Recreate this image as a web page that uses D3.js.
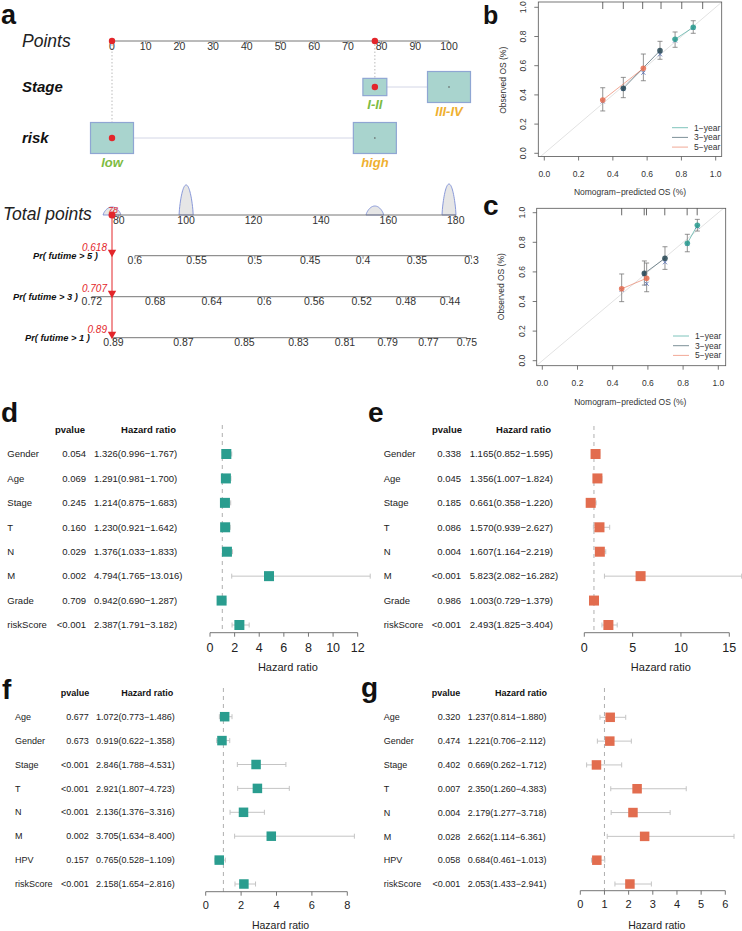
<!DOCTYPE html>
<html><head><meta charset="utf-8">
<script src="https://cdn.jsdelivr.net/npm/d3@7"></script>
<style>
body{margin:0;background:#fff}
svg{display:block}
text{font-family:"Liberation Sans",Arial,Helvetica,sans-serif}
</style>
</head><body>
<svg id="fig" width="742" height="931"></svg>
<script>
// ================= DATA =================
// Panel a: nomogram
const pointsTicks = [0,10,20,30,40,50,60,70,80,90,100];
const stageLevels = ["I-II","III-IV"];
const stagePoints = [78,100];
const stageFreq = [0.31,1.0];
const riskLevels = ["low","high"];
const riskPoints = [0,78];
const riskFreq = [1.0,1.0];
const totalTicks = [80,100,120,140,160,180];
const densityPeaks = [78,100,156,178];
const densityRel = [0.26,0.97,0.29,1.0];
const prob5Labels = ["0.6","0.55","0.5","0.45","0.4","0.35","0.3"];
const prob5At = [84.8,103.1,120.4,136.8,152.5,168.5,184.7];
const prob3Labels = ["0.72","0.68","0.64","0.6","0.56","0.52","0.48","0.44"];
const prob3At = [72.0,90.8,107.6,123.2,138.0,152.1,165.2,178.3];
const prob1Labels = ["0.89","0.87","0.85","0.83","0.81","0.79","0.77","0.75"];
const prob1At = [78.4,99.2,117.3,133.3,147.1,159.8,171.9,183.3];
const probRowNames = ["Pr( futime > 5 )","Pr( futime > 3 )","Pr( futime > 1 )"];
const predictedProb = ["0.618","0.707","0.89"];

// Panel b: calibration
const calTicks = [0,0.2,0.4,0.6,0.8,1.0];
const calNames = ["1\u2212year","3\u2212year","5\u2212year"];
const b1x=[0.763,0.869], b1y=[0.781,0.863], b1lo=[0.726,0.822], b1hi=[0.831,0.908], b1c=[0.772,0.858];
const b3x=[0.461,0.675], b3y=[0.445,0.703], b3lo=[0.381,0.644], b3hi=[0.520,0.767], b3c=[0.440,0.678];
const b5x=[0.341,0.578], b5y=[0.365,0.582], b5lo=[0.290,0.497], b5hi=[0.449,0.680], b5c=[0.355,0.552];
const bRug=[0.341,0.461,0.574,0.681,0.802,0.924];
// Panel c: calibration
const c1x=[0.824,0.881], c1y=[0.793,0.915], c1lo=[0.736,0.876], c1hi=[0.854,0.955], c1c=[0.788,0.905];
const c3x=[0.580,0.697], c3y=[0.590,0.692], c3lo=[0.511,0.617], c3hi=[0.674,0.770], c3c=[0.585,0.665];
const c5x=[0.451,0.593], c5y=[0.486,0.557], c5lo=[0.399,0.466], c5hi=[0.586,0.660], c5c=[0.480,0.520];
const cRug=[0.451,0.579,0.592,0.696,0.823,0.880];

// Panels d-g: forest plots
const dNames=["Gender","Age","Stage","T","N","M","Grade","riskScore"];
const dP=["0.054","0.069","0.245","0.160","0.029","0.002","0.709","<0.001"];
const dHR=[1.326,1.291,1.214,1.230,1.376,4.794,0.942,2.387];
const dLo=[0.996,0.981,0.875,0.921,1.033,1.765,0.690,1.791];
const dHi=[1.767,1.700,1.683,1.642,1.833,13.016,1.287,3.182];
const dTicks=[0,2,4,6,8,10,12];

const eNames=["Gender","Age","Stage","T","N","M","Grade","riskScore"];
const eP=["0.338","0.045","0.185","0.086","0.004","<0.001","0.986","<0.001"];
const eHR=[1.165,1.356,0.661,1.570,1.607,5.823,1.003,2.493];
const eLo=[0.852,1.007,0.358,0.939,1.164,2.082,0.729,1.825];
const eHi=[1.595,1.824,1.220,2.627,2.219,16.282,1.379,3.404];
const eTicks=[0,5,10,15];

const fNames=["Age","Gender","Stage","T","N","M","HPV","riskScore"];
const fP=["0.677","0.673","<0.001","<0.001","<0.001","0.002","0.157","<0.001"];
const fHR=[1.072,0.919,2.846,2.921,2.136,3.705,0.765,2.158];
const fLo=[0.773,0.622,1.788,1.807,1.376,1.634,0.528,1.654];
const fHi=[1.486,1.358,4.531,4.723,3.316,8.400,1.109,2.816];
const fTicks=[0,2,4,6,8];

const gNames=["Age","Gender","Stage","T","N","M","HPV","riskScore"];
const gP=["0.320","0.474","0.402","0.007","0.004","0.028","0.058","<0.001"];
const gHR=[1.237,1.221,0.669,2.350,2.179,2.662,0.684,2.053];
const gLo=[0.814,0.706,0.262,1.260,1.277,1.114,0.461,1.433];
const gHi=[1.880,2.112,1.712,4.383,3.718,6.361,1.013,2.941];
const gTicks=[0,1,2,3,4,5,6];

// ================= DRAW =================
const svg = d3.select("#fig");
svg.append("rect").attr("width",742).attr("height",931).attr("fill","#fff");

function panelLabel(t,x,y,fs){
  svg.append("text").attr("x",x).attr("y",y).attr("font-size",fs||28).attr("font-weight","bold").attr("fill","#111").text(t);
}
panelLabel("a",1,24,27); panelLabel("b",483,24,25); panelLabel("c",483,215);
panelLabel("d",1,422); panelLabel("e",368,422); panelLabel("f",2,699); panelLabel("g",361,697);

// ---------- Panel a ----------
const A = svg.append("g");
const RED = "#e3262b";
const xP = d3.scaleLinear().domain([0,100]).range([112,449]);
const xT = d3.scaleLinear().domain([78,178]).range([112,449]);
const yPoints=41, yStage=87, yRisk=138, yTotal=215, yPr=[255.7,296.7,337.7];

// Row titles
A.append("text").attr("x",22).attr("y",47).attr("font-size",17.5).attr("font-style","italic").attr("fill","#222").text("Points");
A.append("text").attr("x",22).attr("y",92).attr("font-size",15).attr("font-style","italic").attr("font-weight","bold").attr("fill","#111").text("Stage");
A.append("text").attr("x",22).attr("y",143).attr("font-size",15).attr("font-style","italic").attr("font-weight","bold").attr("fill","#111").text("risk");
A.append("text").attr("x",3).attr("y",220).attr("font-size",17.5).attr("font-style","italic").attr("fill","#222").text("Total points");

// dotted guide lines
A.append("line").attr("x1",xP(riskPoints[0])).attr("x2",xP(riskPoints[0])).attr("y1",yPoints).attr("y2",yRisk)
  .attr("stroke","#bbb").attr("stroke-dasharray","1.5,2");
A.append("line").attr("x1",xP(stagePoints[0])).attr("x2",xP(stagePoints[0])).attr("y1",yPoints).attr("y2",yStage)
  .attr("stroke","#bbb").attr("stroke-dasharray","1.5,2");

// Points axis
A.append("line").attr("x1",xP(0)).attr("x2",xP(100)).attr("y1",yPoints).attr("y2",yPoints).attr("stroke","#777");
A.selectAll(".ptk").data(pointsTicks).join("line").attr("x1",d=>xP(d)).attr("x2",d=>xP(d)).attr("y1",yPoints).attr("y2",yPoints+3).attr("stroke","#888");
A.selectAll(".ptl").data(pointsTicks).join("text").attr("x",d=>xP(d)).attr("y",49.5).attr("text-anchor","middle")
  .attr("font-size",10.5).attr("fill","#333").text(d=>d);
A.selectAll(".pdot").data([riskPoints[0],stagePoints[0]]).join("circle").attr("cx",d=>xP(d)).attr("cy",yPoints).attr("r",3.2).attr("fill",RED);

// variable rows
function varRow(levels, pts, freq, y){
  const g = A.append("g");
  const boxes = levels.map((l,i)=>({l, p:pts[i], w:43*Math.sqrt(freq[i]), h:31*Math.sqrt(freq[i]), i}));
  g.append("line").attr("x1",xP(pts[0])).attr("x2",xP(pts[1])).attr("y1",y).attr("y2",y).attr("stroke","#d3d6e6");
  g.selectAll("rect").data(boxes).join("rect")
    .attr("x",d=>xP(d.p)-d.w/2).attr("y",d=>y-d.h/2).attr("width",d=>d.w).attr("height",d=>d.h)
    .attr("fill","#a9d4ce").attr("stroke","#8fa6d3").attr("stroke-width",1.2);
  g.selectAll(".lbl").data(boxes).join("text")
    .attr("x",d=>xP(d.p)).attr("y",d=>y+d.h/2+13).attr("text-anchor","middle")
    .attr("font-size",13).attr("font-weight","bold").attr("font-style","italic")
    .attr("fill",d=>d.i===0?"#7dbb42":"#efb030").text(d=>d.l);
  g.append("circle").attr("cx",xP(pts[0])).attr("cy",y).attr("r",3.2).attr("fill",RED);
  g.append("circle").attr("cx",xP(pts[1])).attr("cy",y).attr("r",0.8).attr("fill","#555");
}
varRow(stageLevels, stagePoints, stageFreq, yStage);
varRow(riskLevels, riskPoints, riskFreq, yRisk);

// Total points axis with density bumps
const bumps = densityPeaks.map((p,i)=>({p, h:densityRel[i]}));
const bumpLine = d3.line().x(d=>d[0]).y(d=>d[1]);
bumps.forEach(b=>{
  const hw = 7 + 2.6*(1-b.h), H = 31*b.h, cx = xT(b.p);
  const pts = d3.range(-1,1.0001,0.05).map(t=>[cx+t*hw, yTotal - H*Math.pow(1-t*t,0.75)]);
  A.append("path").attr("d",bumpLine(pts)+"Z").attr("fill","#e6e6e6").attr("stroke","#7d8fd6").attr("stroke-width",0.9);
});
A.append("line").attr("x1",xT(78)).attr("x2",xT(180)).attr("y1",yTotal).attr("y2",yTotal).attr("stroke","#777");
A.selectAll(".ttk").data(totalTicks).join("line").attr("x1",d=>xT(d)).attr("x2",d=>xT(d)).attr("y1",yTotal).attr("y2",yTotal+3).attr("stroke","#888");
A.selectAll(".ttl").data(totalTicks).join("text").attr("x",d=>xT(d)).attr("y",yTotal+8.5).attr("text-anchor","middle")
  .attr("font-size",10.5).attr("fill","#333").text(d=>d);

// probability axes
const probRows = [[prob5Labels,prob5At],[prob3Labels,prob3At],[prob1Labels,prob1At]];
const probNameX = [33,13,25];
probRows.forEach(([labs,at],r)=>{
  const y = yPr[r];
  A.append("line").attr("x1",xT(at[0])).attr("x2",xT(at[at.length-1])).attr("y1",y).attr("y2",y).attr("stroke","#777");
  A.selectAll(".pk"+r).data(at).join("line").attr("x1",d=>xT(d)).attr("x2",d=>xT(d)).attr("y1",y).attr("y2",y+3).attr("stroke","#888");
  A.selectAll(".pl"+r).data(labs).join("text").attr("x",(d,i)=>xT(at[i])).attr("y",y+8.5).attr("text-anchor","middle")
    .attr("font-size",10.5).attr("fill","#333").text(d=>d);
  A.append("text").attr("x",probNameX[r]).attr("y",y+3.5).attr("font-size",9.3).attr("font-weight","bold").attr("font-style","italic")
    .attr("fill","#111").text(probRowNames[r]);
});

// selected patient indicator
const selTotal = riskPoints[0] + stagePoints[0];
A.append("line").attr("x1",xT(selTotal)).attr("x2",xT(selTotal)).attr("y1",yTotal).attr("y2",yPr[2]).attr("stroke",RED).attr("stroke-width",1);
A.append("circle").attr("cx",xT(selTotal)).attr("cy",yTotal).attr("r",3.5).attr("fill",RED);
A.append("text").attr("x",xT(selTotal)+1).attr("y",yTotal-2).attr("text-anchor","middle").attr("font-size",9).attr("font-style","italic").attr("fill",RED).text(selTotal);
yPr.forEach((y,r)=>{
  A.append("path").attr("d",`M${xT(selTotal)-4.2},${y-6} L${xT(selTotal)+4.2},${y-6} L${xT(selTotal)},${y+1.5} Z`).attr("fill",RED);
  A.append("text").attr("x",xT(selTotal)-5).attr("y",y-4.5).attr("text-anchor","end").attr("font-size",10).attr("font-style","italic")
    .attr("fill",RED).text(predictedProb[r]);
});

// ---------- Calibration panels ----------
const calColors = ["#2a9d8f","#264653","#e76f51"];
function calPanel(cfg, series, rug){
  const g = svg.append("g");
  const x = d3.scaleLinear().domain([0,1]).range([cfg.px0,cfg.px1]);
  const y = d3.scaleLinear().domain([0,1]).range([cfg.py0,cfg.py1]);
  const L=cfg.left, R=cfg.right, T=cfg.top, B=cfg.bottom;
  const cid = "clip"+cfg.id;
  g.append("clipPath").attr("id",cid).append("rect").attr("x",L).attr("y",T).attr("width",R-L).attr("height",B-T);
  g.append("line").attr("clip-path",`url(#${cid})`).attr("x1",x(-0.1)).attr("y1",y(-0.1)).attr("x2",x(1.1)).attr("y2",y(1.1))
    .attr("stroke","#e2e2e2").attr("stroke-width",1);
  g.append("rect").attr("x",L).attr("y",T).attr("width",R-L).attr("height",B-T).attr("fill","none").attr("stroke","#555").attr("stroke-width",0.8);
  g.selectAll(".rug").data(rug).join("line").attr("x1",d=>x(d)).attr("x2",d=>x(d)).attr("y1",T).attr("y2",T+7).attr("stroke","#444").attr("stroke-width",0.8);
  g.selectAll(".xt").data(calTicks).join("line").attr("x1",d=>x(d)).attr("x2",d=>x(d)).attr("y1",B).attr("y2",B+4).attr("stroke","#555").attr("stroke-width",0.8);
  g.selectAll(".xl").data(calTicks).join("text").attr("x",d=>x(d)).attr("y",B+20).attr("text-anchor","middle").attr("font-size",8.5).attr("fill","#333").text(d3.format(".1f"));
  g.selectAll(".yt").data(calTicks).join("line").attr("x1",L-4).attr("x2",L).attr("y1",d=>y(d)).attr("y2",d=>y(d)).attr("stroke","#555").attr("stroke-width",0.8);
  g.selectAll(".yl").data(calTicks).join("text").attr("transform",d=>`translate(${L-15},${y(d)}) rotate(-90)`).attr("dy","0.35em")
    .attr("text-anchor","middle").attr("font-size",8.5).attr("fill","#333").text(d3.format(".1f"));
  g.append("text").attr("transform",`translate(${cfg.ytX},${(y(0)+y(1))/2}) rotate(-90)`).attr("dy","0.35em").attr("text-anchor","middle")
    .attr("font-size",8.5).attr("fill","#333").text("Observed OS (%)");
  g.append("text").attr("x",(x(0)+x(1))/2).attr("y",cfg.xtY).attr("text-anchor","middle").attr("font-size",8.5).attr("fill","#333")
    .text("Nomogram\u2212predicted OS (%)");
  series.forEach((s,k)=>{
    const pts = s.x.map((v,i)=>({x:v,y:s.y[i],lo:s.lo[i],hi:s.hi[i],c:s.c[i]}));
    g.append("path").attr("d",d3.line().x(d=>x(d.x)).y(d=>y(d.y))(pts)).attr("fill","none").attr("stroke",calColors[k]).attr("stroke-opacity",0.6).attr("stroke-width",1);
    pts.forEach(p=>{
      g.append("line").attr("x1",x(p.x)).attr("x2",x(p.x)).attr("y1",y(p.lo)).attr("y2",y(p.hi)).attr("stroke","#777").attr("stroke-width",0.8);
      [p.lo,p.hi].forEach(v=>g.append("line").attr("x1",x(p.x)-2.5).attr("x2",x(p.x)+2.5).attr("y1",y(v)).attr("y2",y(v)).attr("stroke","#777").attr("stroke-width",0.8));
      const cx=x(p.x), cy=y(p.c);
      g.append("path").attr("d",`M${cx-2},${cy-2}L${cx+2},${cy+2}M${cx-2},${cy+2}L${cx+2},${cy-2}`).attr("stroke","#5b74b8").attr("stroke-width",0.9);
      g.append("circle").attr("cx",x(p.x)).attr("cy",y(p.y)).attr("r",2.8).attr("fill",calColors[k]).attr("fill-opacity",0.85);
    });
  });
  calNames.forEach((n,k)=>{
    const ly = cfg.legY + k*9.7;
    g.append("line").attr("x1",cfg.legX).attr("x2",cfg.legX+16).attr("y1",ly).attr("y2",ly).attr("stroke",calColors[k]).attr("stroke-opacity",0.6).attr("stroke-width",1);
    g.append("text").attr("x",cfg.legX+22).attr("y",ly).attr("dy","0.35em").attr("font-size",8.5).attr("fill","#333").text(n);
  });
}
calPanel({id:"b",px0:544.3,px1:715.7,py0:153.3,py1:7.3,left:538.3,right:721.7,top:2,bottom:156.5,ytX:503.3,xtY:195,legX:672,legY:127.7},
  [{x:b1x,y:b1y,lo:b1lo,hi:b1hi,c:b1c},{x:b3x,y:b3y,lo:b3lo,hi:b3hi,c:b3c},{x:b5x,y:b5y,lo:b5lo,hi:b5hi,c:b5c}], bRug);
calPanel({id:"c",px0:542.3,px1:718.3,py0:360.7,py1:212.7,left:536.7,right:725.7,top:208.3,bottom:365.7,ytX:500.7,xtY:405,legX:673,legY:336},
  [{x:c1x,y:c1y,lo:c1lo,hi:c1hi,c:c1c},{x:c3x,y:c3y,lo:c3lo,hi:c3hi,c:c3c},{x:c5x,y:c5y,lo:c5lo,hi:c5hi,c:c5c}], cRug);

// ---------- Forest plots ----------
function forest(cfg, names, pv, hr, lo, hi, ticks, color){
  const g = svg.append("g");
  const x = d3.scaleLinear().domain([ticks[0],ticks[ticks.length-1]]).range([cfg.x0,cfg.x1]);
  const y = d3.scalePoint().domain(names).range(cfg.rows);
  const f3 = d3.format(".3f");
  g.append("text").attr("x",cfg.pvC).attr("y",cfg.headY).attr("dy","0.35em").attr("text-anchor","middle").attr("font-size",cfg.fs).attr("font-weight","bold").attr("fill","#111").text("pvalue");
  g.append("text").attr("x",cfg.hrR).attr("y",cfg.headY).attr("dy","0.35em").attr("text-anchor","end").attr("font-size",cfg.fs).attr("font-weight","bold").attr("fill","#111").text("Hazard ratio");
  names.forEach((n,i)=>{
    const yy = y(n);
    g.append("text").attr("x",cfg.nameX).attr("y",yy).attr("dy","0.35em").attr("font-size",cfg.fs).attr("fill","#222").text(n);
    g.append("text").attr("x",cfg.pR).attr("y",yy).attr("dy","0.35em").attr("text-anchor","end").attr("font-size",cfg.fs).attr("fill","#222").text(pv[i]);
    g.append("text").attr("x",cfg.hrX).attr("y",yy).attr("dy","0.35em").attr("font-size",cfg.fs).attr("fill","#222")
      .text(`${f3(hr[i])}(${f3(lo[i])}\u2212${f3(hi[i])})`);
  });
  g.append("line").attr("x1",x(1)).attr("x2",x(1)).attr("y1",cfg.dashTop).attr("y2",cfg.axisY).attr("stroke","#9a9a9a").attr("stroke-width",0.8).attr("stroke-dasharray","4,4");
  names.forEach((n,i)=>{
    const yy = y(n);
    g.append("line").attr("x1",x(lo[i])).attr("x2",x(hi[i])).attr("y1",yy).attr("y2",yy).attr("stroke","#c4c4c4").attr("stroke-width",1);
    [lo[i],hi[i]].forEach(v=>g.append("line").attr("x1",x(v)).attr("x2",x(v)).attr("y1",yy-2.5).attr("y2",yy+2.5).attr("stroke","#c4c4c4").attr("stroke-width",1));
    g.append("rect").attr("x",x(hr[i])-cfg.sq/2).attr("y",yy-cfg.sq/2).attr("width",cfg.sq).attr("height",cfg.sq).attr("fill",color);
  });
  g.append("line").attr("x1",x(ticks[0])).attr("x2",x(ticks[ticks.length-1])).attr("y1",cfg.axisY).attr("y2",cfg.axisY).attr("stroke","#666").attr("stroke-width",0.9);
  g.selectAll(".tk").data(ticks).join("line").attr("x1",d=>x(d)).attr("x2",d=>x(d)).attr("y1",cfg.axisY).attr("y2",cfg.axisY+4).attr("stroke","#666").attr("stroke-width",0.9);
  g.selectAll(".tl").data(ticks).join("text").attr("x",d=>x(d)).attr("y",cfg.axisY+cfg.tlOff).attr("dy","0.35em").attr("text-anchor","middle").attr("font-size",cfg.afs).attr("fill","#222").text(d=>d);
  g.append("text").attr("x",(cfg.x0+cfg.x1)/2+4).attr("y",cfg.titleY).attr("dy","0.35em").attr("text-anchor","middle").attr("font-size",cfg.tfs).attr("fill","#222").text("Hazard ratio");
}
const TEAL="#2a9d8f", ORANGE="#e26d4f";
forest({x0:210,x1:357.7,rows:[454,625],nameX:7.3,pR:86,hrX:94,headY:429.3,pvC:70,hrR:176,fs:9.5,afs:12.5,tfs:11,axisY:632.7,tlOff:14.6,titleY:666.7,sq:10,dashTop:425},
  dNames,dP,dHR,dLo,dHi,dTicks,TEAL);
forest({x0:584.3,x1:729.3,rows:[454,625],nameX:383.7,pR:461,hrX:469.7,headY:430,pvC:447,hrR:551,fs:9.5,afs:12.5,tfs:11,axisY:632.7,tlOff:14.6,titleY:666.7,sq:10,dashTop:426},
  eNames,eP,eHR,eLo,eHi,eTicks,ORANGE);
forest({x0:205.7,x1:347.3,rows:[716.7,884],nameX:15,pR:88.7,hrX:96,headY:692.7,pvC:75,hrR:173.3,fs:9,afs:11,tfs:10.5,axisY:891.7,tlOff:13.3,titleY:925.5,sq:9.5,dashTop:688},
  fNames,fP,fHR,fLo,fHi,fTicks,TEAL);
forest({x0:580.3,x1:725.3,rows:[717.3,884],nameX:383.7,pR:460.3,hrX:467.7,headY:693.3,pvC:446,hrR:547,fs:9,afs:11,tfs:10.5,axisY:890.7,tlOff:13.3,titleY:925,sq:9.5,dashTop:688},
  gNames,gP,gHR,gLo,gHi,gTicks,ORANGE);
</script>
</body></html>
